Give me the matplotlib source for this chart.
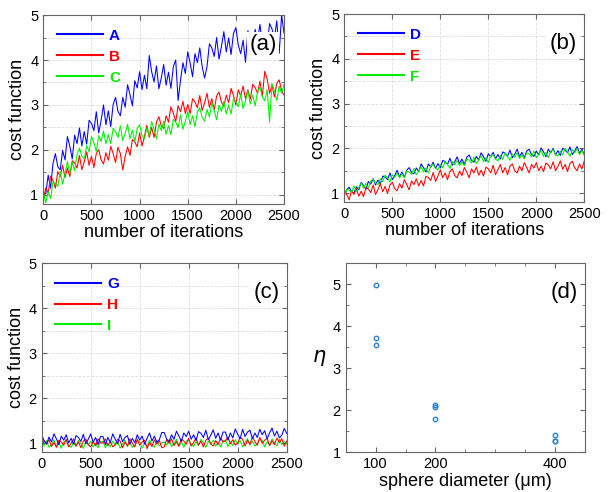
import numpy as np
import matplotlib
matplotlib.use("Agg")
import matplotlib.pyplot as plt
from matplotlib.ticker import MultipleLocator, FixedLocator

plt.rcParams['font.family'] = ['Liberation Sans', 'DejaVu Sans']

# cost function every 25 iterations (0 ... 2500)
# panel (a)
A = [1.05, 1.02, 1.44, 1.15, 1.70, 1.92, 1.63, 1.56, 1.99, 1.78, 2.30, 2.08, 1.80, 2.33, 2.14,
     2.49, 2.09, 2.41, 2.13, 2.66, 2.59, 2.43, 2.85, 2.38, 2.66, 3.00, 2.56, 2.87, 2.52, 3.01,
     3.17, 2.86, 2.76, 3.17, 2.95, 3.45, 3.23, 2.98, 3.54, 3.38, 3.74, 3.34, 3.66, 3.36, 4.10,
     3.74, 3.51, 3.87, 3.36, 3.60, 3.90, 3.44, 3.73, 3.37, 3.85, 4.00, 3.10, 3.55, 3.94, 3.70,
     4.18, 3.93, 3.63, 4.14, 3.94, 4.27, 3.85, 3.60, 3.85, 4.36, 4.27, 4.08, 4.50, 4.02, 4.30,
     4.63, 4.18, 4.49, 4.12, 4.59, 4.72, 4.33, 4.14, 4.44, 3.95, 4.65, 4.43, 4.15, 4.68, 4.44,
     4.79, 4.34, 4.61, 4.33, 4.81, 4.69, 4.48, 4.87, 4.15, 5.00, 4.60]
B = [0.90, 1.16, 1.05, 1.42, 1.32, 1.15, 1.52, 1.41, 1.66, 1.39, 1.60, 1.41, 1.76, 1.71, 1.60,
     1.88, 1.56, 1.74, 1.96, 1.66, 1.86, 1.61, 1.92, 2.01, 1.78, 1.69, 1.94, 1.77, 2.08, 1.92,
     1.72, 2.06, 1.92, 1.55, 1.86, 2.07, 1.88, 2.23, 2.18, 2.07, 2.38, 2.09, 2.30, 2.55, 2.28,
     2.50, 2.28, 2.62, 2.74, 2.54, 2.48, 2.76, 2.62, 2.96, 2.82, 2.63, 2.98, 2.85, 3.08, 2.81,
     3.01, 2.81, 3.14, 3.07, 2.94, 3.21, 2.88, 3.05, 3.26, 2.95, 3.14, 2.89, 3.20, 3.29, 3.06,
     2.97, 3.22, 3.05, 3.37, 3.21, 3.00, 3.34, 3.20, 3.42, 3.14, 3.34, 3.13, 3.46, 3.39, 3.26,
     3.53, 3.20, 3.75, 3.58, 3.26, 3.44, 3.18, 3.48, 3.56, 3.32, 3.22]
C = [1.06, 0.83, 1.07, 0.92, 1.29, 1.26, 1.19, 1.52, 1.24, 1.47, 1.74, 1.48, 1.73, 1.54, 1.90,
     2.04, 1.86, 1.81, 2.10, 1.96, 2.30, 2.16, 1.97, 2.32, 2.19, 2.42, 2.14, 2.34, 2.14, 2.48,
     2.41, 2.28, 2.54, 2.21, 2.37, 2.57, 2.25, 2.44, 2.18, 2.48, 2.56, 2.33, 2.24, 2.49, 2.32,
     2.63, 2.46, 2.25, 2.58, 2.43, 2.64, 2.35, 2.54, 2.34, 2.68, 2.62, 2.50, 2.78, 2.46, 2.64,
     2.86, 2.56, 2.76, 2.52, 2.84, 2.94, 2.72, 2.64, 2.90, 2.74, 3.05, 2.88, 2.67, 3.00, 2.86,
     3.08, 2.80, 3.00, 2.80, 3.14, 3.08, 2.96, 3.24, 2.92, 3.10, 3.32, 3.02, 3.22, 2.98, 3.30,
     3.40, 3.18, 3.09, 3.34, 2.62, 3.48, 3.31, 3.10, 3.42, 3.26, 3.46]

# panel (b)
D = [0.95, 1.07, 1.13, 1.03, 1.00, 1.14, 1.07, 1.24, 1.17, 1.08, 1.26, 1.20, 1.32, 1.18, 1.29,
     1.20, 1.38, 1.36, 1.30, 1.45, 1.30, 1.39, 1.51, 1.36, 1.47, 1.35, 1.51, 1.57, 1.46, 1.43,
     1.56, 1.48, 1.65, 1.57, 1.47, 1.65, 1.58, 1.69, 1.55, 1.66, 1.56, 1.73, 1.70, 1.64, 1.78,
     1.62, 1.70, 1.81, 1.66, 1.76, 1.64, 1.80, 1.85, 1.73, 1.69, 1.82, 1.74, 1.90, 1.81, 1.71,
     1.88, 1.81, 1.91, 1.77, 1.86, 1.76, 1.92, 1.89, 1.82, 1.96, 1.79, 1.87, 1.98, 1.82, 1.91,
     1.79, 1.94, 1.98, 1.86, 1.82, 1.94, 1.85, 2.01, 1.92, 1.81, 1.98, 1.90, 2.00, 1.85, 1.95,
     1.84, 2.00, 1.96, 1.90, 2.03, 1.86, 1.94, 2.04, 1.89, 1.98, 1.85]
E = [1.07, 0.97, 0.85, 1.05, 0.97, 1.10, 0.93, 1.04, 0.92, 1.12, 1.09, 1.01, 1.18, 0.97, 1.08,
     1.21, 1.03, 1.15, 0.99, 1.18, 1.24, 1.10, 1.05, 1.21, 1.11, 1.30, 1.19, 1.07, 1.27, 1.19,
     1.32, 1.16, 1.28, 1.16, 1.37, 1.35, 1.28, 1.46, 1.26, 1.38, 1.52, 1.34, 1.45, 1.30, 1.48,
     1.54, 1.39, 1.34, 1.49, 1.39, 1.57, 1.47, 1.34, 1.54, 1.45, 1.58, 1.40, 1.51, 1.38, 1.58,
     1.54, 1.45, 1.62, 1.41, 1.52, 1.64, 1.45, 1.57, 1.41, 1.60, 1.65, 1.50, 1.45, 1.60, 1.50,
     1.68, 1.57, 1.45, 1.64, 1.56, 1.68, 1.50, 1.60, 1.48, 1.67, 1.63, 1.54, 1.70, 1.50, 1.60,
     1.72, 1.53, 1.64, 1.48, 1.66, 1.71, 1.56, 1.50, 1.65, 1.54, 1.72]
F = [0.92, 1.08, 1.07, 1.02, 1.16, 1.03, 1.12, 1.23, 1.11, 1.21, 1.11, 1.27, 1.31, 1.22, 1.19,
     1.32, 1.25, 1.40, 1.34, 1.25, 1.41, 1.35, 1.45, 1.34, 1.43, 1.34, 1.49, 1.47, 1.42, 1.55,
     1.41, 1.49, 1.59, 1.47, 1.56, 1.45, 1.60, 1.64, 1.55, 1.52, 1.64, 1.56, 1.71, 1.64, 1.55,
     1.70, 1.63, 1.73, 1.61, 1.70, 1.61, 1.76, 1.74, 1.67, 1.80, 1.66, 1.74, 1.84, 1.70, 1.79,
     1.68, 1.83, 1.86, 1.76, 1.72, 1.84, 1.75, 1.90, 1.82, 1.73, 1.87, 1.80, 1.90, 1.77, 1.86,
     1.76, 1.90, 1.88, 1.81, 1.94, 1.79, 1.86, 1.96, 1.82, 1.91, 1.79, 1.93, 1.97, 1.86, 1.83,
     1.94, 1.85, 2.00, 1.92, 1.82, 1.97, 1.90, 1.99, 1.86, 1.95, 1.85]

# panel (c)
G = [1.20, 1.05, 0.99, 1.14, 1.03, 1.21, 1.10, 0.97, 1.16, 1.07, 1.19, 1.01, 1.11, 0.98, 1.17,
     1.13, 1.04, 1.20, 0.99, 1.09, 1.21, 1.02, 1.13, 0.97, 1.15, 1.15, 0.97, 1.13, 1.02, 1.21,
     1.09, 0.99, 1.20, 1.04, 1.13, 1.17, 0.98, 1.11, 1.01, 1.19, 1.07, 1.16, 0.98, 1.11, 1.23,
     1.05, 1.16, 1.02, 1.08, 1.24, 1.24, 1.09, 1.04, 1.19, 1.09, 1.27, 1.16, 1.04, 1.23, 1.15,
     1.27, 1.09, 1.19, 1.06, 1.26, 1.22, 1.13, 1.29, 1.08, 1.18, 1.30, 1.11, 1.23, 1.07, 1.25,
     1.25, 1.07, 1.23, 1.12, 1.32, 1.20, 1.10, 1.31, 1.15, 1.25, 1.29, 1.10, 1.23, 1.13, 1.31,
     1.19, 1.28, 1.10, 1.23, 1.34, 1.16, 1.27, 1.12, 1.18, 1.33, 1.22]
H = [0.90, 1.06, 0.98, 1.08, 0.93, 1.02, 0.91, 1.07, 1.03, 0.96, 1.09, 0.92, 1.00, 1.10, 0.94,
     1.03, 0.90, 1.05, 1.09, 0.97, 0.92, 1.04, 0.95, 1.10, 1.01, 1.01, 1.10, 0.95, 1.04, 0.92,
     0.97, 1.09, 1.05, 0.90, 1.03, 0.94, 1.10, 1.00, 0.92, 1.09, 0.96, 1.03, 1.07, 0.88, 1.02,
     0.93, 1.08, 0.98, 1.06, 0.90, 0.92, 1.08, 1.00, 1.10, 0.95, 1.04, 0.93, 1.09, 1.05, 0.98,
     1.11, 0.94, 1.02, 1.12, 0.96, 1.05, 0.92, 1.07, 1.11, 0.99, 0.94, 1.06, 0.97, 1.12, 1.03,
     1.05, 1.14, 0.99, 1.08, 0.96, 1.01, 1.13, 1.09, 0.94, 1.07, 0.98, 1.14, 1.04, 0.96, 1.13,
     1.00, 1.07, 1.11, 0.95, 1.06, 0.97, 1.12, 1.02, 1.10, 0.94, 1.05]
I = [1.01, 0.94, 1.06, 0.91, 0.98, 1.07, 0.93, 1.01, 0.89, 1.03, 1.06, 0.95, 0.91, 1.02, 0.93,
     1.07, 0.99, 0.89, 1.03, 0.96, 1.05, 0.92, 1.00, 0.90, 1.04, 1.04, 0.90, 1.00, 0.92, 1.05,
     0.96, 1.03, 0.89, 0.99, 1.07, 0.93, 1.02, 0.91, 0.95, 1.06, 1.03, 0.89, 1.01, 0.93, 1.07,
     0.98, 0.91, 1.06, 0.94, 1.01, 1.03, 0.96, 1.08, 0.93, 1.00, 1.09, 0.95, 1.03, 0.91, 1.05,
     1.08, 0.97, 0.93, 1.04, 0.95, 1.09, 1.01, 0.91, 1.05, 0.98, 1.07, 0.94, 1.02, 0.92, 1.06,
     1.07, 0.93, 1.03, 0.95, 1.08, 0.99, 1.06, 0.92, 1.02, 1.10, 0.96, 1.05, 0.94, 0.98, 1.09,
     1.06, 0.92, 1.04, 0.96, 1.10, 1.01, 0.94, 1.09, 0.97, 1.04, 0.98]

# panel (d) eta vs sphere diameter
diameter = [100, 100, 100, 200, 200, 200, 400, 400, 400]
eta = [4.99, 3.71, 3.56, 2.12, 2.08, 1.80, 1.41, 1.27, 1.26]

BLUE, RED, GREEN = '#0000ff', '#ff0000', '#00ee00'
SPINE = '0.4'

fig = plt.figure(figsize=(6.15, 4.92), dpi=100)
ax_a = fig.add_axes([0.0705, 0.5854, 0.3913, 0.3841])
ax_b = fig.add_axes([0.5599, 0.5894, 0.3902, 0.3821])
ax_c = fig.add_axes([0.0678, 0.0807, 0.3984, 0.3841])
ax_d = fig.add_axes([0.5621, 0.0807, 0.3891, 0.3841])


def style(ax):
    for s in ax.spines.values():
        s.set_color(SPINE)
    ax.tick_params(which='both', direction='in', top=True, right=True,
                   labelsize=10.5, color=SPINE)
    ax.tick_params(which='major', length=3.5)
    ax.tick_params(which='minor', length=2)


def cost_panel(ax, series, labels, colors, tag, zorders=(2, 2.1, 2.2)):
    for y, lab, col, z in zip(series, labels, colors, zorders):
        x = np.linspace(0, 2500, len(y))
        ax.plot(x, y, color=col, lw=0.75, label=lab, zorder=z)
    ax.set_xlim(0, 2500)
    ax.set_ylim(0.8, 5)
    ax.xaxis.set_major_locator(MultipleLocator(500))
    ax.yaxis.set_major_locator(MultipleLocator(1))
    ax.yaxis.set_minor_locator(MultipleLocator(0.5))
    ax.grid(True, which='both', ls='--', lw=0.6, color='0.87')
    ax.set_axisbelow(True)
    ax.set_xlabel('number of iterations', fontsize=13, labelpad=1)
    ax.set_ylabel('cost function', fontsize=13, labelpad=3)
    leg = ax.legend(loc='upper left', frameon=False, handlelength=3.0,
                    handletextpad=0.4, labelspacing=0.45, borderaxespad=0.5,
                    prop={'weight': 'bold', 'size': 11})
    for h, txt, col in zip(leg.legend_handles, leg.get_texts(), colors):
        h.set_linewidth(1.5)
        txt.set_color(col)
    ax.text(0.97, 0.90, tag, transform=ax.transAxes, ha='right', va='top',
            fontsize=16, bbox=dict(facecolor='white', edgecolor='none', pad=1.5),
            zorder=5)
    style(ax)


cost_panel(ax_a, [A, B, C], ['A', 'B', 'C'], [BLUE, RED, GREEN], '(a)')
cost_panel(ax_b, [D, E, F], ['D', 'E', 'F'], [BLUE, RED, GREEN], '(b)')
cost_panel(ax_c, [G, H, I], ['G', 'H', 'I'], [BLUE, RED, GREEN], '(c)',
           zorders=(2.2, 2.1, 2))

# panel (d)
ax_d.plot(diameter, eta, 'o', ls='none', ms=3.2, mfc='none', mec='#2b83d6', mew=1.0)
ax_d.set_xlim(50, 450)
ax_d.set_ylim(1, 5.5)
ax_d.xaxis.set_major_locator(FixedLocator([100, 200, 400]))
ax_d.xaxis.set_minor_locator(FixedLocator([50, 150, 250, 300, 350, 450]))
ax_d.yaxis.set_major_locator(MultipleLocator(1))
ax_d.yaxis.set_minor_locator(MultipleLocator(0.5))
ax_d.set_xlabel('sphere diameter (\u03bcm)', fontsize=13, labelpad=1)
ax_d.set_ylabel(r'$\eta$', fontsize=15, rotation=0, labelpad=10, va='center')
ax_d.text(0.97, 0.90, '(d)', transform=ax_d.transAxes, ha='right', va='top', fontsize=16)
style(ax_d)

fig.savefig('out.png', dpi=100)
